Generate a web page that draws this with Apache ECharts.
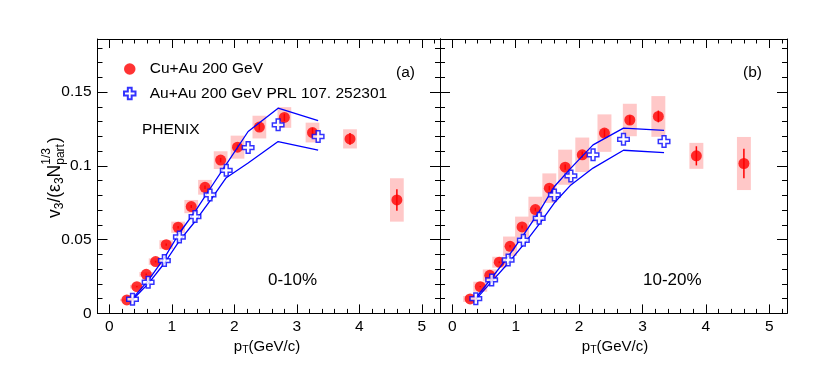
<!DOCTYPE html>
<html><head><meta charset="utf-8">
<script src="https://cdn.jsdelivr.net/npm/echarts@6/dist/echarts.min.js"></script>
<style>html,body{margin:0;padding:0;background:#fff}#c{width:830px;height:375px}</style>
</head><body><div id="c"></div>
<script>
// ---------------- data ----------------
const ptCuAu = [0.28, 0.44, 0.59, 0.74, 0.91, 1.10, 1.31, 1.53, 1.78, 2.05, 2.40, 2.80, 3.25, 3.85, 4.60];
const v3CuAu_010  = [0.0091, 0.0181, 0.0265, 0.0351, 0.0466, 0.0584, 0.0724, 0.0855, 0.1039, 0.1127, 0.1263, 0.1328, 0.1226, 0.1183, 0.0769];
const statCuAu_010 = [0.0003, 0.0004, 0.0005, 0.0006, 0.0007, 0.0008, 0.0010, 0.0012, 0.0015, 0.0018, 0.0022, 0.0025, 0.0030, 0.0040, 0.0073];
const sysCuAu_010  = [0.0008, 0.0012, 0.0016, 0.0022, 0.0030, 0.0038, 0.0045, 0.0050, 0.0060, 0.0078, 0.0077, 0.0070, 0.0067, 0.0065, 0.0147];
const v3CuAu_1020 = [0.0098, 0.0181, 0.0258, 0.0347, 0.0455, 0.0586, 0.0704, 0.0849, 0.0991, 0.1075, 0.1222, 0.1311, 0.1335, 0.1068, 0.1016];
const statCuAu_1020 = [0.0003, 0.0004, 0.0005, 0.0006, 0.0008, 0.0010, 0.0012, 0.0015, 0.0018, 0.0022, 0.0026, 0.0030, 0.0040, 0.0065, 0.0100];
const sysCuAu_1020  = [0.0020, 0.0034, 0.0040, 0.0037, 0.0066, 0.0070, 0.0087, 0.0100, 0.0119, 0.0117, 0.0127, 0.0110, 0.0138, 0.0088, 0.0180];

const ptAuAu = [0.37, 0.62, 0.88, 1.12, 1.37, 1.61, 1.87, 2.22, 2.70, 3.34];
const v3AuAu_010   = [0.0096, 0.0211, 0.0358, 0.0518, 0.0656, 0.0803, 0.0970, 0.1124, 0.1278, 0.1199];
const upAuAu_010   = [0.0100, 0.0222, 0.0376, 0.0545, 0.0690, 0.0845, 0.1010, 0.1233, 0.1391, 0.1307];
const lowAuAu_010  = [0.0092, 0.0200, 0.0340, 0.0492, 0.0623, 0.0762, 0.0920, 0.1020, 0.1165, 0.1106];
const v3AuAu_1020  = [0.0100, 0.0227, 0.0362, 0.0496, 0.0645, 0.0803, 0.0932, 0.1075, 0.1180, 0.1165];
const upAuAu_1020  = [0.0105, 0.0240, 0.0385, 0.0530, 0.0690, 0.0860, 0.0985, 0.1142, 0.1256, 0.1240];
const lowAuAu_1020 = [0.0095, 0.0215, 0.0340, 0.0465, 0.0605, 0.0750, 0.0871, 0.0985, 0.1106, 0.1090];

const xMajorTicks = [0, 1, 2, 3, 4, 5];
const xMinorTicks = [0.2, 0.4, 0.6, 0.8, 1.2, 1.4, 1.6, 1.8, 2.2, 2.4, 2.6, 2.8, 3.2, 3.4, 3.6, 3.8, 4.2, 4.4, 4.6, 4.8, 5.2];
const yMajorTicks = [0, 0.05, 0.1, 0.15];
const yMinorTicks = [0.01, 0.02, 0.03, 0.04, 0.06, 0.07, 0.08, 0.09, 0.11, 0.12, 0.13, 0.14, 0.16, 0.17, 0.18];

const seriesNames = ['Cu+Au 200 GeV', 'Au+Au 200 GeV PRL 107. 252301'];
const panelTags = ['(a)', '(b)'];
const centralities = ['0-10%', '10-20%'];

// ---------------- layout / style ----------------
const FONT = '"Liberation Sans", Arial, Helvetica, sans-serif';
const X_RANGES = [[-0.19, 5.29], [-0.195, 5.28]];
const Y_RANGE = [0, 0.186];
const GRIDS = [
  {left: 97.5, top: 39, width: 342.5, height: 274.4},
  {left: 440, top: 39, width: 347, height: 274.4}
];
const BOX_HALF = 0.11;
const RED = '#ff0000', BLUE = '#0000ff', PINK = '#ffc8c8';
const CROSS = 'path://M1,0 H2 V1 H3 V2 H2 V3 H1 V2 H0 V1 H1 Z';

const zip3 = (a, b, c) => a.map((v, i) => [v, b[i], c[i]]);
const zip2 = (a, b) => a.map((v, i) => [v, b[i]]);

function xAxesFor(g) {
  const [mn, mx] = X_RANGES[g];
  const base = {gridIndex: g, type: 'value', min: mn, max: mx, splitLine: {show: false},
    axisLine: {show: false, onZero: false}, axisLabel: {show: false}, axisTick: {show: false}, axisPointer: {show: false}};
  const line = {show: true, onZero: false, lineStyle: {color: '#000', width: 1}};
  const major = {show: true, inside: true, length: 9, customValues: xMajorTicks, lineStyle: {color: '#000', width: 1}};
  const minor = {show: true, inside: true, length: 4.5, customValues: xMinorTicks, lineStyle: {color: '#000', width: 1}};
  return [
    Object.assign({}, base, {position: 'bottom', axisLine: line, axisTick: major,
      axisLabel: {show: true, customValues: xMajorTicks, margin: 5, fontSize: 15.5, fontFamily: FONT, color: '#000'}}),
    Object.assign({}, base, {position: 'top', axisLine: line, axisTick: major}),
    Object.assign({}, base, {position: 'bottom', axisTick: minor}),
    Object.assign({}, base, {position: 'top', axisTick: minor})
  ];
}
function yAxesFor(g, labels) {
  const base = {gridIndex: g, type: 'value', min: Y_RANGE[0], max: Y_RANGE[1], splitLine: {show: false},
    axisLine: {show: false, onZero: false}, axisLabel: {show: false}, axisTick: {show: false}, axisPointer: {show: false}};
  const line = {show: true, onZero: false, lineStyle: {color: '#000', width: 1}};
  const major = {show: true, inside: true, length: 10, customValues: yMajorTicks, lineStyle: {color: '#000', width: 1}};
  const minor = {show: true, inside: true, length: 5, customValues: yMinorTicks, lineStyle: {color: '#000', width: 1}};
  return [
    Object.assign({}, base, {position: 'left', axisLine: line, axisTick: major,
      axisLabel: {show: labels, customValues: yMajorTicks, margin: 6, fontSize: 15.5, fontFamily: FONT, color: '#000'}}),
    Object.assign({}, base, {position: 'right', axisLine: line, axisTick: major}),
    Object.assign({}, base, {position: 'left', axisTick: minor}),
    Object.assign({}, base, {position: 'right', axisTick: minor})
  ];
}

function seriesFor(g, v3Cu, statCu, sysCu, v3Au, upAu, lowAu) {
  const ax = {xAxisIndex: g * 4, yAxisIndex: g * 4};
  return [
    Object.assign({type: 'custom', name: 'sys' + g, silent: true, z: 1,
      data: zip3(ptCuAu, v3Cu, sysCu), encode: {x: 0, y: 1},
      renderItem(params, api) {
        const x = api.value(0), y = api.value(1), s = api.value(2);
        const p1 = api.coord([x - BOX_HALF, y + s]);
        const p2 = api.coord([x + BOX_HALF, y - s]);
        return {type: 'rect', shape: {x: p1[0], y: p1[1], width: p2[0] - p1[0], height: p2[1] - p1[1]}, style: {fill: PINK}};
      }}, ax),
    Object.assign({type: 'custom', name: 'stat' + g, silent: true, z: 3,
      data: zip3(ptCuAu, v3Cu, statCu), encode: {x: 0, y: 1},
      renderItem(params, api) {
        const x = api.value(0), y = api.value(1), s = api.value(2);
        const p1 = api.coord([x, y + s]);
        const p2 = api.coord([x, y - s]);
        return {type: 'line', shape: {x1: p1[0], y1: p1[1], x2: p2[0], y2: p2[1]}, style: {stroke: RED, lineWidth: 1.5}};
      }}, ax),
    Object.assign({type: 'scatter', name: seriesNames[0], z: 4, symbol: 'circle', symbolSize: 11,
      itemStyle: {color: RED}, data: zip2(ptCuAu, v3Cu)}, ax),
    Object.assign({type: 'line', name: 'up' + g, z: 5, showSymbol: false, symbol: 'none',
      lineStyle: {color: BLUE, width: 1.3}, data: zip2(ptAuAu, upAu)}, ax),
    Object.assign({type: 'line', name: 'low' + g, z: 5, showSymbol: false, symbol: 'none',
      lineStyle: {color: BLUE, width: 1.3}, data: zip2(ptAuAu, lowAu)}, ax),
    Object.assign({type: 'scatter', name: seriesNames[1], z: 6, symbol: CROSS, symbolSize: 11.5,
      itemStyle: {color: '#ffffff', borderColor: BLUE, borderWidth: 1.5}, data: zip2(ptAuAu, v3Au)}, ax)
  ];
}

// y title built from measured pieces (rotated)
const ctx = document.createElement('canvas').getContext('2d');
function tw(t, size) { ctx.font = size + 'px ' + FONT; return ctx.measureText(t).width; }
const YT = 17.5, YS = 12;
const ytParts = [];
let cx = 0;
function addPart(t, size, dy) { ytParts.push({type: 'text', x: cx, y: dy, style: {text: t, font: size + 'px ' + FONT, fill: '#000', verticalAlign: 'middle', align: 'left'}}); cx += tw(t, size); }
addPart('v', YT, 0); addPart('3', YS, 5);
addPart('/(\u03b5', YT, 0); addPart('3', YS, 5);
addPart('N', YT, 0);
const stackX = cx;
ytParts.push({type: 'text', x: stackX, y: -8, style: {text: '1/3', font: YS + 'px ' + FONT, fill: '#000', verticalAlign: 'middle'}});
ytParts.push({type: 'text', x: stackX, y: 6, style: {text: 'part', font: YS + 'px ' + FONT, fill: '#000', verticalAlign: 'middle'}});
cx = stackX + Math.max(tw('1/3', YS), tw('part', YS)) + 1;
addPart(')', YT, 0);

function txt(t, x, y, size, align) {
  return {type: 'text', x: x, y: y, style: {text: t, font: size + 'px ' + FONT, fill: '#000', verticalAlign: 'middle', align: align || 'left'}};
}
function ptTitle(cxp, cy) {
  return {type: 'text', x: cxp, y: cy, style: {text: 'p{s|T}(GeV/c)', font: '15px ' + FONT, fill: '#000', align: 'center', verticalAlign: 'middle',
    rich: {s: {fontSize: 10.5, fontFamily: FONT, verticalAlign: 'bottom', padding: [7, 0, 0, 0]}}}};
}

const option = {
  animation: false,
  backgroundColor: '#ffffff',
  grid: GRIDS,
  xAxis: xAxesFor(0).concat(xAxesFor(1)),
  yAxis: yAxesFor(0, true).concat(yAxesFor(1, false)),
  legend: {
    data: seriesNames, orient: 'vertical', left: 123, top: 61, padding: 0,
    itemWidth: 30, itemHeight: 11.5, itemGap: 8.5, selectedMode: false,
    textStyle: {fontSize: 15.5, fontFamily: FONT, color: '#000'}
  },
  series: seriesFor(0, v3CuAu_010, statCuAu_010, sysCuAu_010, v3AuAu_010, upAuAu_010, lowAuAu_010)
    .concat(seriesFor(1, v3CuAu_1020, statCuAu_1020, sysCuAu_1020, v3AuAu_1020, upAuAu_1020, lowAuAu_1020)),
  graphic: [
    txt('PHENIX', 142, 130, 15.5),
    txt(panelTags[0], 396, 73, 15.5),
    txt(panelTags[1], 743, 73, 15.5),
    txt(centralities[0], 268, 280, 17),
    txt(centralities[1], 643, 280, 17),
    ptTitle(267, 347),
    ptTitle(615, 347),
    {type: 'group', x: 55, y: 218, rotation: Math.PI / 2, children: ytParts}
  ]
};
const chart = echarts.init(document.getElementById('c'));
chart.setOption(option);
</script>
</body></html>
